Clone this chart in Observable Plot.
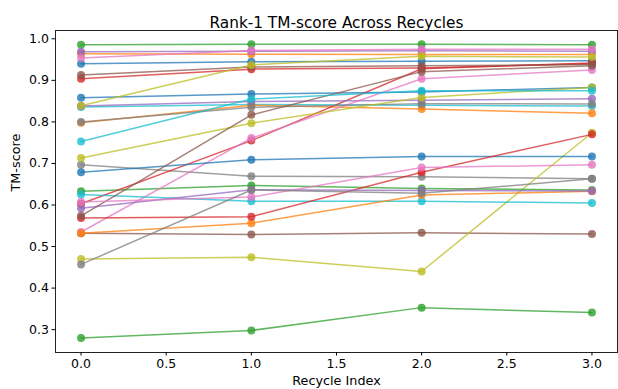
<!DOCTYPE html>
<html>
<head>
<meta charset="utf-8">
<script src="https://cdn.jsdelivr.net/npm/d3@7"></script>
<script src="https://cdn.jsdelivr.net/npm/@observablehq/plot@0.6"></script>
<style>
  html, body { margin: 0; padding: 0; background: #fff; }
  #chart svg { display: block; }
</style>
</head>
<body>
<div id="chart"></div>
<script>
// Recycle indices (x)
const recycles = [0, 1, 2, 3];
// Rank-1 TM-score of each of the 30 lines at each recycle
const recycle0 = [0.940, 0.964, 0.986, 0.904, 0.969, 0.532, 0.954, 0.697, 0.470, 0.836,
                  0.858, 0.798, 0.633, 0.603, 0.838, 0.913, 0.535, 0.800, 0.713, 0.625,
                  0.679, 0.532, 0.280, 0.569, 0.592, 0.574, 0.607, 0.457, 0.839, 0.753];
const recycle1 = [0.945, 0.963, 0.987, 0.927, 0.970, 0.529, 0.972, 0.669, 0.474, 0.842,
                  0.867, 0.840, 0.647, 0.755, 0.849, 0.932, 0.761, 0.835, 0.797, 0.609,
                  0.709, 0.556, 0.298, 0.572, 0.637, 0.817, 0.619, 0.636, 0.937, 0.855];
const recycle2 = [0.946, 0.962, 0.987, 0.930, 0.971, 0.533, 0.975, 0.668, 0.440, 0.840,
                  0.872, 0.831, 0.640, 0.928, 0.852, 0.935, 0.904, 0.844, 0.859, 0.609,
                  0.717, 0.624, 0.353, 0.679, 0.635, 0.921, 0.690, 0.628, 0.958, 0.875];
const recycle3 = [0.947, 0.962, 0.986, 0.940, 0.970, 0.530, 0.975, 0.663, 0.774, 0.838,
                  0.883, 0.821, 0.636, 0.942, 0.856, 0.938, 0.925, 0.843, 0.883, 0.605,
                  0.717, 0.633, 0.341, 0.770, 0.634, 0.935, 0.697, 0.663, 0.956, 0.875];
const xTicks = [0, 0.5, 1, 1.5, 2, 2.5, 3];
const yTicks = [0.3, 0.4, 0.5, 0.6, 0.7, 0.8, 0.9, 1.0];

const palette = ["#1f77b4", "#ff7f0e", "#2ca02c", "#d62728", "#9467bd",
                 "#8c564b", "#e377c2", "#7f7f7f", "#bcbd22", "#17becf"];

const byRecycle = [recycle0, recycle1, recycle2, recycle3];
const marks = [];
for (let i = 0; i < recycle0.length; i++) {
  const rows = recycles.map((r, k) => ({recycle: r, tm: byRecycle[k][i]}));
  const c = palette[i % 10];
  marks.push(Plot.lineY(rows, {x: "recycle", y: "tm", stroke: c, strokeWidth: 1.5, strokeOpacity: 0.75}));
  marks.push(Plot.dot(rows, {x: "recycle", y: "tm", fill: c, r: 4, fillOpacity: 0.8, stroke: "none"}));
}

const chart = Plot.plot({
  width: 618,
  height: 389,
  marginLeft: 55,
  marginRight: 1,
  marginTop: 30,
  marginBottom: 37,
  style: {fontFamily: "DejaVu Sans", fontSize: "12.5px", color: "#000", background: "#fff"},
  x: {domain: [-0.15, 3.15]},
  y: {domain: [0.245, 1.02]},
  marks: [
    ...marks,
    Plot.frame({stroke: "#222", strokeWidth: 1}),
    Plot.axisX({ticks: xTicks, tickFormat: d => d.toFixed(1), tickSize: 3.5, tickPadding: 3, label: null, fontSize: 12.5}),
    Plot.axisY({ticks: yTicks, tickFormat: d => d.toFixed(1), tickSize: 3.5, tickPadding: 3, label: null, fontSize: 12.5}),
    Plot.text(["Recycle Index"], {frameAnchor: "bottom", dy: 32.5, fontSize: 12.8, fill: "#000"}),
    Plot.text(["TM-score"], {frameAnchor: "left", dx: -40, rotate: -90, fontSize: 12.8, fill: "#000"}),
    Plot.text(["Rank-1 TM-score Across Recycles"], {frameAnchor: "top", dy: -13, fontSize: 15.3, fill: "#000"})
  ]
});
document.getElementById("chart").appendChild(chart);
</script>
</body>
</html>
